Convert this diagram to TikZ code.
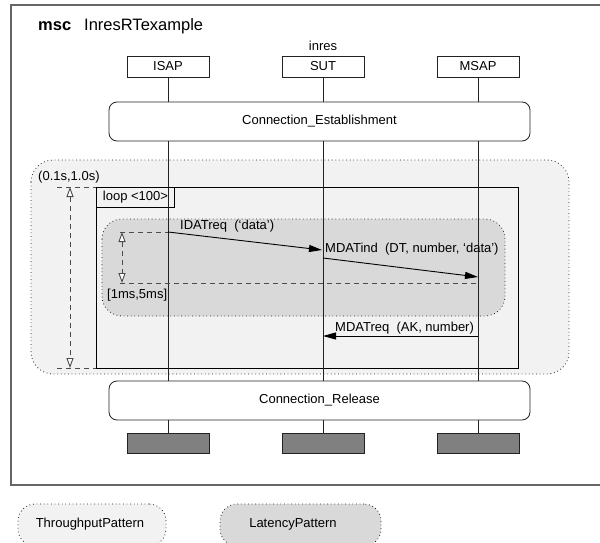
\documentclass[tikz,border=0pt]{standalone}
\usepackage{fontspec}
\setmainfont{Liberation Sans}
\usetikzlibrary{arrows.meta}
\definecolor{tpfill}{HTML}{F2F2F2}
\definecolor{ltfill}{HTML}{D9D9D9}
\definecolor{endfill}{HTML}{808080}
\definecolor{framecol}{HTML}{666666}
\definecolor{linecol}{HTML}{222222}
\tikzset{otip/.tip={Triangle[open, length=10pt, width=7pt, fill=white, line width=0.9pt]}}
\begin{document}
\begin{tikzpicture}[x=1pt,y=-1pt,
  font=\fontsize{13}{15}\selectfont,
  headbox/.style={draw=linecol, line width=0.8pt, fill=white, minimum width=82pt, minimum height=21pt, inner sep=0pt},
  endbox/.style={draw=linecol, line width=0.8pt, fill=endfill, minimum width=82pt, minimum height=20pt, inner sep=0pt},
  refbox/.style={draw=linecol, line width=0.8pt, fill=white, rounded corners=8pt, minimum width=421pt, minimum height=39pt, inner sep=0pt},
  lifeline/.style={draw=linecol, line width=0.9pt},
  dotborder/.style={draw=linecol, line width=0.8pt, dash pattern=on 0.8pt off 2.8pt},
  constr/.style={draw=black!70, line width=1pt, dash pattern=on 5pt off 4pt},
  msg/.style={draw=black, line width=0.9pt, -{Triangle[length=13pt, width=7pt]}},
  lbl/.style={inner sep=0pt, anchor=base west},
  legend/.style={dotborder, rounded corners=17pt, minimum width=148pt, minimum height=42pt, inner sep=0pt}
]
\useasboundingbox (0,0) rectangle (600,543);

% outer frame
\draw[framecol, line width=1.3pt] (11,5) rectangle (620,485);
\node[lbl] (msclbl) at (38,31) {\fontsize{16.5}{18}\selectfont\textbf{msc}};
\node[lbl] (mscname) at (84,31) {\fontsize{16.5}{18}\selectfont InresRTexample};

% throughput region
\path[dotborder, fill=tpfill, rounded corners=22pt] (31,160) rectangle (569,374);
\node[lbl] (tplbl) at (38,180.5) {(0.1s,1.0s)};

% loop box
\draw[black, line width=0.9pt] (96,187) rectangle (518,368);
\node[draw=black, line width=0.9pt, anchor=north west, minimum width=78pt, minimum height=20pt, inner sep=0pt] (looplbl) at (96,187) {loop <100>};

% latency region
\path[dotborder, fill=ltfill, rounded corners=20pt] (102,219) rectangle (505,316);

% instance heads
\node[headbox] (isap) at (168,66.5) {ISAP};
\node[headbox] (sut) at (323,66.5) {SUT};
\node[headbox] (msap) at (478,66.5) {MSAP};
\node[anchor=base, inner sep=0pt] (inres) at (323,51) {inres};

% references
\node[refbox] (est) at (319.5,121.5) {Connection\_Establishment};
\node[refbox] (rel) at (319.5,400.5) {Connection\_Release};

% end boxes
\node[endbox] (isapend) at (168,443) {};
\node[endbox] (sutend) at (323,443) {};
\node[endbox] (msapend) at (478,443) {};

% lifelines
\foreach \i in {isap,sut,msap}{
  \draw[lifeline] (\i.south) -- (\i.south |- est.north);
  \draw[lifeline] (\i.south |- est.south) -- (\i.south |- rel.north);
  \draw[lifeline] (\i.south |- rel.south) -- (\i end.north);
}

% throughput constraint
\coordinate (tpa) at (57,187);
\coordinate (tpb) at (57,368);
\coordinate (tpv1) at (70,187);
\coordinate (tpv2) at (70,368);
\draw[constr] (tpa) -- (looplbl.north west);
\draw[constr] (tpb) -- (tpb -| looplbl.west);
\draw[constr, otip-otip] (tpv1) -- (tpv2);

% latency constraint
\coordinate (lta) at (120,232);
\coordinate (ltb) at (120,283);
\coordinate (ltv1) at (122,232);
\coordinate (ltv2) at (122,283);
\coordinate (m1s) at (isap |- lta);
\coordinate (m1e) at (322,250);
\coordinate (m2s) at (323,258);
\coordinate (m2e) at (478,277);
\coordinate (m3s) at (478,336);
\coordinate (m3e) at (323,336);
\draw[constr] (lta) -- (m1s);
\draw[constr] (ltb) -- (ltb -| msap);
\draw[constr, otip-otip] (ltv1) -- (ltv2);
\node[lbl] (ltlbl) at (107,298.5) {[1ms,5ms]};

% messages
\draw[msg] (m1s) -- (m1e);
\draw[msg] (m2s) -- (m2e);
\draw[msg] (m3s) -- (m3e);
\node[lbl] (m1lbl) at (180,229) {IDATreq\ \ (`data')};
\node[lbl] (m2lbl) at (325,252) {MDATind\ \ (DT, number, `data')};
\node[lbl] (m3lbl) at (335,331) {MDATreq\ \ (AK, number)};

% legend
\node[legend, fill=tpfill] (tpleg) at (92,525) {};
\node[anchor=center, inner sep=0pt] (tplegt) at (90,524) {ThroughputPattern};
\node[legend, fill=ltfill, minimum width=161pt] (ltleg) at (300.5,525) {};
\node[anchor=center, inner sep=0pt] (ltlegt) at (293,524) {LatencyPattern};
\end{tikzpicture}
\end{document}
